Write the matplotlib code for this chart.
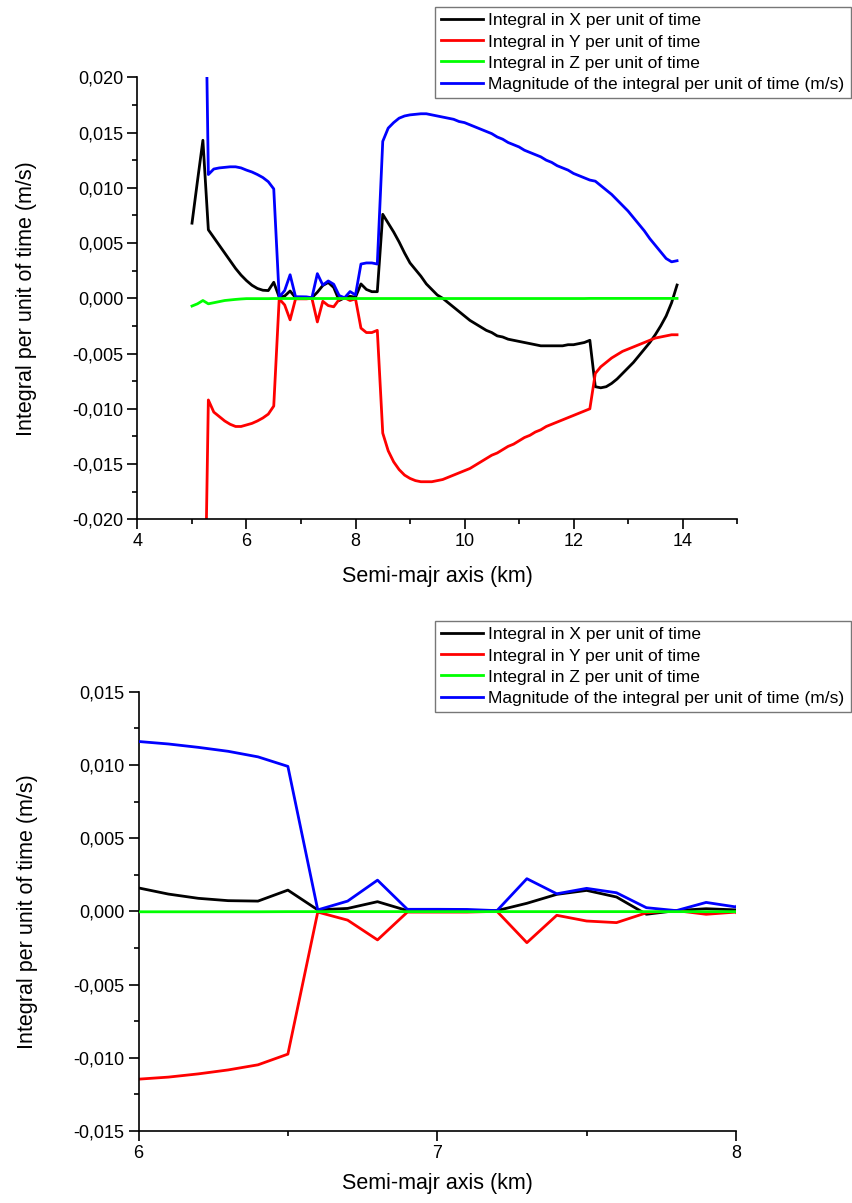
import matplotlib
matplotlib.use('Agg')
import matplotlib.pyplot as plt
import numpy as np
from matplotlib.ticker import MultipleLocator, FuncFormatter

plt.rcParams['font.family'] = ['Liberation Sans', 'DejaVu Sans']

# semi-major axis grid (km), step 0.1 from 5.0 to 13.9
a_km = np.round(np.arange(5.0, 13.95, 0.1), 1)

int_x = [0.0068, 0.0106, 0.0143, 0.0062, 0.0055, 0.0048, 0.0041, 0.0034, 0.0027, 0.0021,
         0.0016, 0.00118, 0.00089, 0.00073, 0.0007, 0.00145, 0.0001, 0.0002, 0.00066, 0.00005,
         0.00005, 0.00005, 0.00005, 0.00055, 0.00116, 0.00143, 0.00098, -0.0002, 0.00005, 0.00018,
         0.0001, 0.0013, 0.0008, 0.0006, 0.0006, 0.0076, 0.0068, 0.0060, 0.0051, 0.0041,
         0.0032, 0.0026, 0.0020, 0.0013, 0.0008, 0.0003, 0.0000, -0.0004, -0.0008, -0.0012,
         -0.0016, -0.0020, -0.0023, -0.0026, -0.0029, -0.0031, -0.0034, -0.0035, -0.0037, -0.0038,
         -0.0039, -0.0040, -0.0041, -0.0042, -0.0043, -0.0043, -0.0043, -0.0043, -0.0043, -0.0042,
         -0.0042, -0.0041, -0.0040, -0.0038, -0.0080, -0.0081, -0.0080, -0.0077, -0.0073, -0.0068,
         -0.0063, -0.0058, -0.0052, -0.0046, -0.0040, -0.0033, -0.0025, -0.0016, -0.0004, 0.0012]

int_y = [-0.050, -0.046, -0.040, -0.0092, -0.0103, -0.0107, -0.0111, -0.0114, -0.0116, -0.0116,
         -0.01146, -0.01132, -0.0111, -0.01083, -0.01048, -0.00975, -0.00005, -0.0006, -0.00195, -0.00005,
         -0.00005, -0.00005, 0.0, -0.00214, -0.00027, -0.00066, -0.00077, -0.0001, 0.00005, -0.0002,
         -0.00005, -0.0027, -0.0031, -0.0031, -0.0029, -0.0122, -0.0138, -0.0148, -0.0155, -0.0160,
         -0.0163, -0.0165, -0.0166, -0.0166, -0.0166, -0.0165, -0.0164, -0.0162, -0.0160, -0.0158,
         -0.0156, -0.0154, -0.0151, -0.0148, -0.0145, -0.0142, -0.0140, -0.0137, -0.0134, -0.0132,
         -0.0129, -0.0126, -0.0124, -0.0121, -0.0119, -0.0116, -0.0114, -0.0112, -0.0110, -0.0108,
         -0.0106, -0.0104, -0.0102, -0.0100, -0.0068, -0.0062, -0.0058, -0.0054, -0.0051, -0.0048,
         -0.0046, -0.0044, -0.0042, -0.0040, -0.0038, -0.0036, -0.0035, -0.0034, -0.0033, -0.0033]

int_z = [-0.0007, -0.0005, -0.0002, -0.0005, -0.0004, -0.0003, -0.0002, -0.00015, -0.0001, -0.00006,
         -0.00003, -0.00003, -0.00003, -0.00003, -0.00003, -0.00002, -0.00002, -0.00002, -0.00002, -0.00002,
         -0.00002, -0.00002, -0.00002, -0.00002, -0.00002, -0.00002, -0.00002, -0.00002, -0.00002, -0.00002,
         -0.00002, -0.00002, -0.00002, -0.00002, -0.00002, -0.00002, -0.00002, -0.00002, -0.00002, -0.00002,
         -0.00002, -0.00002, -0.00002, -0.00002, -0.00002, -0.00002, -0.00002, -0.00002, -0.00002, -0.00002,
         -0.00002, -0.00002, -0.00002, -0.00002, -0.00002, -0.00002, -0.00002, -0.00002, -0.00002, -0.00002,
         -0.00002, -0.00002, -0.00002, -0.00002, -0.00002, -0.00002, -0.00002, -0.00002, -0.00002, -0.00002,
         -0.00002, -0.00002, -0.00002, -0.00001, -0.00001, -0.00001, -0.00001, -0.00001, -0.00001, -0.00001,
         -0.00001, -0.00001, -0.00001, -0.00001, -0.00001, -0.00001, -0.00001, -0.00001, -0.00001, -0.00001]

mag = [0.060, 0.055, 0.045, 0.0112, 0.0117, 0.0118, 0.01185, 0.0119, 0.0119, 0.0118,
       0.0116, 0.01143, 0.0112, 0.01093, 0.01055, 0.0099, 0.0001, 0.0007, 0.00213, 0.00014,
       0.00014, 0.00013, 0.00005, 0.00223, 0.0012, 0.00157, 0.00127, 0.00025, 0.00005, 0.00061,
       0.0003, 0.0031, 0.0032, 0.0032, 0.0031, 0.0142, 0.0154, 0.0159, 0.0163, 0.0165,
       0.0166, 0.01665, 0.0167, 0.0167, 0.0166, 0.0165, 0.0164, 0.0163, 0.0162, 0.0160,
       0.0159, 0.0157, 0.0155, 0.0153, 0.0151, 0.0149, 0.0146, 0.0144, 0.0141, 0.0139,
       0.0137, 0.0134, 0.0132, 0.0130, 0.0128, 0.0125, 0.0123, 0.0120, 0.0118, 0.0116,
       0.0113, 0.0111, 0.0109, 0.0107, 0.0106, 0.0102, 0.0098, 0.0094, 0.0089, 0.0084,
       0.0079, 0.0073, 0.0067, 0.0061, 0.0054, 0.0048, 0.0042, 0.0036, 0.0033, 0.0034]

labels = ['Integral in X per unit of time',
          'Integral in Y per unit of time',
          'Integral in Z per unit of time',
          'Magnitude of the integral per unit of time (m/s)']
colors = ['black', '#ff0000', '#00ff00', '#0000ff']
zorders = [2, 2, 4, 3]

W, H = 853, 1203


def comma(v, pos):
    if abs(v) < 1e-12:
        v = 0.0
    return ('%.3f' % v).replace('.', ',')


def panel(ax, xlim, ylim, xmaj, xmin, leg_top):
    series = [int_x, int_y, int_z, mag]
    handles = []
    for s, c, lab, z in zip(series, colors, labels, zorders):
        h, = ax.plot(a_km, s, color=c, lw=2.0, label=lab, zorder=z)
        handles.append(h)
    ax.set_xlim(*xlim)
    ax.set_ylim(*ylim)
    ax.spines['top'].set_visible(False)
    ax.spines['right'].set_visible(False)
    for sp in ['left', 'bottom']:
        ax.spines[sp].set_linewidth(1.2)
    ax.xaxis.set_major_locator(MultipleLocator(xmaj))
    ax.xaxis.set_minor_locator(MultipleLocator(xmin))
    ax.yaxis.set_major_locator(MultipleLocator(0.005))
    ax.yaxis.set_minor_locator(MultipleLocator(0.0025))
    ax.yaxis.set_major_formatter(FuncFormatter(comma))
    ax.tick_params(which='major', direction='out', length=7, width=1.2, labelsize=13, pad=3)
    ax.tick_params(which='minor', direction='out', length=3.5, width=1.2)
    ax.set_xlabel('Semi-majr axis (km)', fontsize=15.5)
    ax.set_ylabel('Integral per unit of time (m/s)', fontsize=15.5)
    ax.yaxis.set_label_coords(-0.168, 0.5)
    leg = ax.legend(handles=handles, loc='upper right',
                    bbox_to_anchor=(851 / W, 1 - leg_top / H),
                    bbox_transform=ax.figure.transFigure,
                    fontsize=12.5, frameon=True, fancybox=False, shadow=False,
                    handlelength=2.4, handletextpad=0.3, labelspacing=0.34,
                    borderpad=0.38, borderaxespad=0)
    leg.get_frame().set_edgecolor('#555555')
    leg.get_frame().set_linewidth(1.0)
    return ax


fig = plt.figure(figsize=(W / 100, H / 100), dpi=100)

ax1 = fig.add_axes([137.5 / W, 1 - 519.3 / H, 599.5 / W, 442 / H])
panel(ax1, (4, 15), (-0.02, 0.02), 2, 1, 6.7)
ax1.xaxis.set_label_coords(0.5, -0.105)

ax2 = fig.add_axes([138.5 / W, 1 - 1131 / H, 597.5 / W, 439.3 / H])
panel(ax2, (6, 8), (-0.015, 0.015), 1, 0.5, 620.7)
ax2.xaxis.set_label_coords(0.5, -0.095)

fig.savefig('out.png', dpi=100)
